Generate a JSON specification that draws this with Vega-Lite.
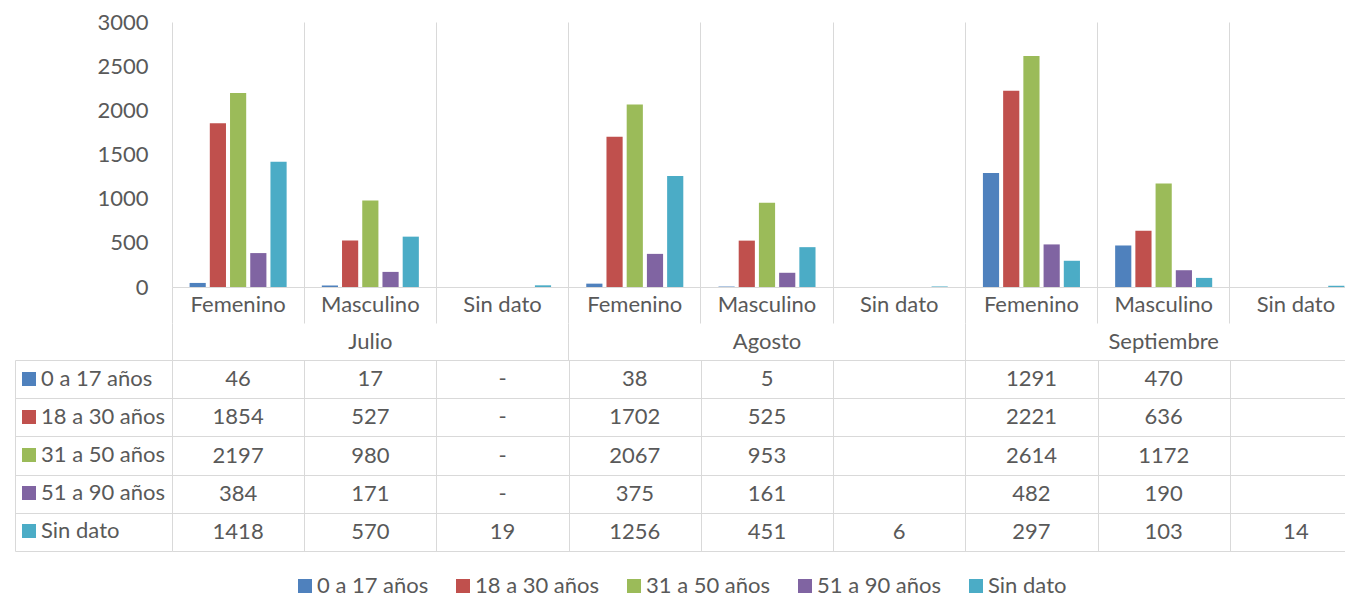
{
  "$schema": "https://vega.github.io/schema/vega-lite/v6.json",
  "padding": {"left": 14, "top": 11, "right": 0, "bottom": 0},
  "config": {
    "font": "Lato",
    "view": {"stroke": null},
    "axis": {"labelFont": "Lato"},
    "legend": {"labelFont": "Lato"}
  },
  "datasets": {
    "tabla": [
      {"mes": "Julio", "sexo": "Femenino", "celda": "Julio · Femenino", "edad": "0 a 17 años", "valor": 46, "tabla": "46"},
      {"mes": "Julio", "sexo": "Femenino", "celda": "Julio · Femenino", "edad": "18 a 30 años", "valor": 1854, "tabla": "1854"},
      {"mes": "Julio", "sexo": "Femenino", "celda": "Julio · Femenino", "edad": "31 a 50 años", "valor": 2197, "tabla": "2197"},
      {"mes": "Julio", "sexo": "Femenino", "celda": "Julio · Femenino", "edad": "51 a 90 años", "valor": 384, "tabla": "384"},
      {"mes": "Julio", "sexo": "Femenino", "celda": "Julio · Femenino", "edad": "Sin dato", "valor": 1418, "tabla": "1418"},
      {"mes": "Julio", "sexo": "Masculino", "celda": "Julio · Masculino", "edad": "0 a 17 años", "valor": 17, "tabla": "17"},
      {"mes": "Julio", "sexo": "Masculino", "celda": "Julio · Masculino", "edad": "18 a 30 años", "valor": 527, "tabla": "527"},
      {"mes": "Julio", "sexo": "Masculino", "celda": "Julio · Masculino", "edad": "31 a 50 años", "valor": 980, "tabla": "980"},
      {"mes": "Julio", "sexo": "Masculino", "celda": "Julio · Masculino", "edad": "51 a 90 años", "valor": 171, "tabla": "171"},
      {"mes": "Julio", "sexo": "Masculino", "celda": "Julio · Masculino", "edad": "Sin dato", "valor": 570, "tabla": "570"},
      {"mes": "Julio", "sexo": "Sin dato", "celda": "Julio · Sin dato", "edad": "0 a 17 años", "valor": null, "tabla": "-"},
      {"mes": "Julio", "sexo": "Sin dato", "celda": "Julio · Sin dato", "edad": "18 a 30 años", "valor": null, "tabla": "-"},
      {"mes": "Julio", "sexo": "Sin dato", "celda": "Julio · Sin dato", "edad": "31 a 50 años", "valor": null, "tabla": "-"},
      {"mes": "Julio", "sexo": "Sin dato", "celda": "Julio · Sin dato", "edad": "51 a 90 años", "valor": null, "tabla": "-"},
      {"mes": "Julio", "sexo": "Sin dato", "celda": "Julio · Sin dato", "edad": "Sin dato", "valor": 19, "tabla": "19"},
      {"mes": "Agosto", "sexo": "Femenino", "celda": "Agosto · Femenino", "edad": "0 a 17 años", "valor": 38, "tabla": "38"},
      {"mes": "Agosto", "sexo": "Femenino", "celda": "Agosto · Femenino", "edad": "18 a 30 años", "valor": 1702, "tabla": "1702"},
      {"mes": "Agosto", "sexo": "Femenino", "celda": "Agosto · Femenino", "edad": "31 a 50 años", "valor": 2067, "tabla": "2067"},
      {"mes": "Agosto", "sexo": "Femenino", "celda": "Agosto · Femenino", "edad": "51 a 90 años", "valor": 375, "tabla": "375"},
      {"mes": "Agosto", "sexo": "Femenino", "celda": "Agosto · Femenino", "edad": "Sin dato", "valor": 1256, "tabla": "1256"},
      {"mes": "Agosto", "sexo": "Masculino", "celda": "Agosto · Masculino", "edad": "0 a 17 años", "valor": 5, "tabla": "5"},
      {"mes": "Agosto", "sexo": "Masculino", "celda": "Agosto · Masculino", "edad": "18 a 30 años", "valor": 525, "tabla": "525"},
      {"mes": "Agosto", "sexo": "Masculino", "celda": "Agosto · Masculino", "edad": "31 a 50 años", "valor": 953, "tabla": "953"},
      {"mes": "Agosto", "sexo": "Masculino", "celda": "Agosto · Masculino", "edad": "51 a 90 años", "valor": 161, "tabla": "161"},
      {"mes": "Agosto", "sexo": "Masculino", "celda": "Agosto · Masculino", "edad": "Sin dato", "valor": 451, "tabla": "451"},
      {"mes": "Agosto", "sexo": "Sin dato", "celda": "Agosto · Sin dato", "edad": "0 a 17 años", "valor": null, "tabla": ""},
      {"mes": "Agosto", "sexo": "Sin dato", "celda": "Agosto · Sin dato", "edad": "18 a 30 años", "valor": null, "tabla": ""},
      {"mes": "Agosto", "sexo": "Sin dato", "celda": "Agosto · Sin dato", "edad": "31 a 50 años", "valor": null, "tabla": ""},
      {"mes": "Agosto", "sexo": "Sin dato", "celda": "Agosto · Sin dato", "edad": "51 a 90 años", "valor": null, "tabla": ""},
      {"mes": "Agosto", "sexo": "Sin dato", "celda": "Agosto · Sin dato", "edad": "Sin dato", "valor": 6, "tabla": "6"},
      {"mes": "Septiembre", "sexo": "Femenino", "celda": "Septiembre · Femenino", "edad": "0 a 17 años", "valor": 1291, "tabla": "1291"},
      {"mes": "Septiembre", "sexo": "Femenino", "celda": "Septiembre · Femenino", "edad": "18 a 30 años", "valor": 2221, "tabla": "2221"},
      {"mes": "Septiembre", "sexo": "Femenino", "celda": "Septiembre · Femenino", "edad": "31 a 50 años", "valor": 2614, "tabla": "2614"},
      {"mes": "Septiembre", "sexo": "Femenino", "celda": "Septiembre · Femenino", "edad": "51 a 90 años", "valor": 482, "tabla": "482"},
      {"mes": "Septiembre", "sexo": "Femenino", "celda": "Septiembre · Femenino", "edad": "Sin dato", "valor": 297, "tabla": "297"},
      {"mes": "Septiembre", "sexo": "Masculino", "celda": "Septiembre · Masculino", "edad": "0 a 17 años", "valor": 470, "tabla": "470"},
      {"mes": "Septiembre", "sexo": "Masculino", "celda": "Septiembre · Masculino", "edad": "18 a 30 años", "valor": 636, "tabla": "636"},
      {"mes": "Septiembre", "sexo": "Masculino", "celda": "Septiembre · Masculino", "edad": "31 a 50 años", "valor": 1172, "tabla": "1172"},
      {"mes": "Septiembre", "sexo": "Masculino", "celda": "Septiembre · Masculino", "edad": "51 a 90 años", "valor": 190, "tabla": "190"},
      {"mes": "Septiembre", "sexo": "Masculino", "celda": "Septiembre · Masculino", "edad": "Sin dato", "valor": 103, "tabla": "103"},
      {"mes": "Septiembre", "sexo": "Sin dato", "celda": "Septiembre · Sin dato", "edad": "0 a 17 años", "valor": null, "tabla": ""},
      {"mes": "Septiembre", "sexo": "Sin dato", "celda": "Septiembre · Sin dato", "edad": "18 a 30 años", "valor": null, "tabla": ""},
      {"mes": "Septiembre", "sexo": "Sin dato", "celda": "Septiembre · Sin dato", "edad": "31 a 50 años", "valor": null, "tabla": ""},
      {"mes": "Septiembre", "sexo": "Sin dato", "celda": "Septiembre · Sin dato", "edad": "51 a 90 años", "valor": null, "tabla": ""},
      {"mes": "Septiembre", "sexo": "Sin dato", "celda": "Septiembre · Sin dato", "edad": "Sin dato", "valor": 14, "tabla": "14"}
    ]
  },
  "spacing": 0,
  "bounds": "flush",
  "resolve": {"scale": {"fill": "independent"}, "legend": {"fill": "independent"}},
  "vconcat": [
    {
      "width": 1190,
      "height": 265,
      "data": {"name": "tabla"},
      "mark": {"type": "bar"},
      "encoding": {
        "x": {
          "field": "celda", "type": "nominal", "sort": null,
          "scale": {"type": "band", "paddingInner": 0, "paddingOuter": 0},
          "axis": {"title": null, "labels": false, "ticks": false, "domain": true, "domainColor": "#D9D9D9", "grid": true, "gridColor": "#D9D9D9", "bandPosition": 0}
        },
        "xOffset": {
          "field": "edad", "type": "nominal",
          "sort": ["0 a 17 años", "18 a 30 años", "31 a 50 años", "51 a 90 años", "Sin dato"],
          "scale": {"paddingInner": 0.2, "paddingOuter": 0.87}
        },
        "y": {
          "field": "valor", "type": "quantitative",
          "scale": {"domain": [0, 3000], "nice": false},
          "axis": {"title": null, "format": "d", "values": [0, 500, 1000, 1500, 2000, 2500, 3000], "grid": false, "domain": false, "ticks": false, "tickSize": 0, "labelFontSize": 22, "labelColor": "#595959", "labelPadding": 24}
        },
        "color": {
          "field": "edad", "type": "nominal",
          "sort": ["0 a 17 años", "18 a 30 años", "31 a 50 años", "51 a 90 años", "Sin dato"],
          "scale": {"domain": ["0 a 17 años", "18 a 30 años", "31 a 50 años", "51 a 90 años", "Sin dato"], "range": ["#4F81BD", "#C0504D", "#9BBB59", "#8064A2", "#4BACC6"]},
          "legend": {"orient": "none", "direction": "horizontal", "legendX": 122, "legendY": 553, "title": null, "symbolType": "square", "symbolSize": 196, "symbolStrokeWidth": 0, "labelFontSize": 22, "labelColor": "#595959", "columnPadding": 23, "labelOffset": 1, "padding": 0}
        }
      }
    },
    {
      "width": 1190,
      "height": 36,
      "data": {"name": "tabla"},
      "transform": [{"filter": "datum.edad === '0 a 17 años'"}],
      "mark": {"type": "text", "fontSize": 22, "color": "#595959"},
      "encoding": {
        "x": {
          "field": "celda", "type": "nominal", "sort": null,
          "scale": {"type": "band", "paddingInner": 0, "paddingOuter": 0},
          "axis": {"title": null, "labels": false, "ticks": false, "domain": false, "grid": true, "gridColor": "#D9D9D9", "bandPosition": 0}
        },
        "text": {"field": "sexo", "type": "nominal"}
      }
    },
    {
      "width": 1190,
      "height": 37,
      "data": {"name": "tabla"},
      "transform": [{"filter": "datum.edad === '0 a 17 años'"}],
      "mark": {"type": "text", "fontSize": 22, "color": "#595959"},
      "encoding": {
        "x": {
          "field": "celda", "type": "nominal", "sort": null,
          "scale": {"type": "band", "paddingInner": 0, "paddingOuter": 0},
          "axis": {"title": null, "labels": false, "ticks": false, "domain": false, "grid": true, "gridColor": "#D9D9D9", "bandPosition": 0,
                   "values": ["Julio · Femenino", "Agosto · Femenino", "Septiembre · Femenino"]}
        },
        "text": {"condition": {"test": "datum.sexo === 'Masculino'", "field": "mes", "type": "nominal"}, "value": ""}
      }
    },
    {
      "width": 1190,
      "height": 191,
      "data": {"name": "tabla"},
      "layer": [
        {
          "mark": {"type": "text", "fontSize": 22, "color": "#595959"},
          "encoding": {
            "x": {
              "field": "celda", "type": "nominal", "sort": null,
              "scale": {"type": "band", "paddingInner": 0, "paddingOuter": 0},
              "axis": {"title": null, "labels": false, "ticks": false, "domain": false, "grid": true, "gridColor": "#D9D9D9", "tickBand": "extent"}
            },
            "y": {
              "field": "edad", "type": "nominal",
              "sort": ["0 a 17 años", "18 a 30 años", "31 a 50 años", "51 a 90 años", "Sin dato"],
              "scale": {"type": "band", "paddingInner": 0, "paddingOuter": 0},
              "axis": {"title": null, "labels": false, "tickBand": "extent", "grid": true, "gridColor": "#D9D9D9", "domain": true, "domainColor": "#D9D9D9", "offset": 157, "ticks": true, "tickSize": -157, "tickColor": "#D9D9D9"}
            },
            "text": {"field": "tabla", "type": "nominal"}
          }
        },
        {
          "mark": {"type": "point", "filled": true, "opacity": 0},
          "encoding": {
            "fill": {
              "field": "edad", "type": "nominal",
              "sort": ["0 a 17 años", "18 a 30 años", "31 a 50 años", "51 a 90 años", "Sin dato"],
              "scale": {"domain": ["0 a 17 años", "18 a 30 años", "31 a 50 años", "51 a 90 años", "Sin dato"], "range": ["#4F81BD", "#C0504D", "#9BBB59", "#8064A2", "#4BACC6"]},
              "legend": {"orient": "none", "legendX": -154, "legendY": 8, "direction": "vertical", "title": null, "symbolType": "square", "symbolSize": 196, "symbolStrokeWidth": 0, "symbolOpacity": 1, "labelFontSize": 22, "labelColor": "#595959", "rowPadding": 16, "labelOffset": 1, "padding": 0}
            }
          }
        }
      ]
    }
  ]
}
